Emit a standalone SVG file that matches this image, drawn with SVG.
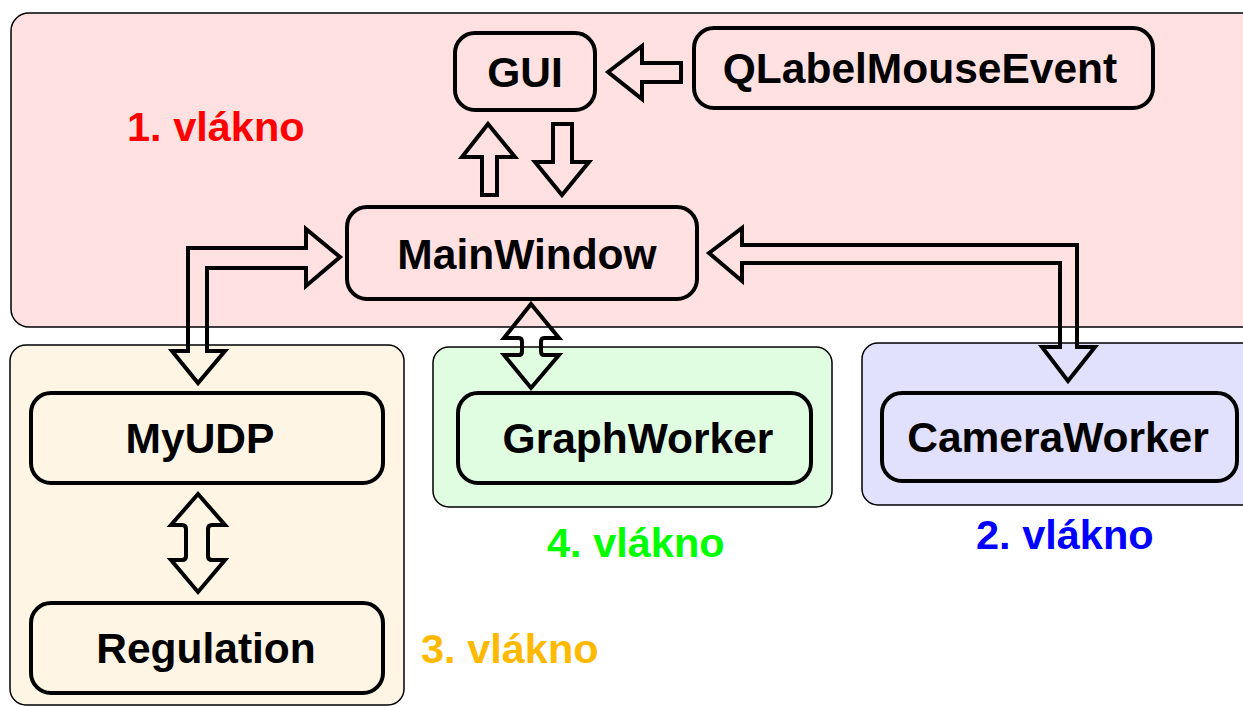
<svg xmlns="http://www.w3.org/2000/svg" width="1243" height="706" viewBox="0 0 1243 706">
<style>
.region{stroke:#000;stroke-width:1.5}
.node{fill:none;stroke:#000;stroke-width:4}
.lbl{font-family:"Liberation Sans",Arial,sans-serif;font-weight:bold;font-size:42.5px;text-anchor:middle;fill:#000}
.thread{font-family:"Liberation Sans",Arial,sans-serif;font-weight:bold;font-size:41.5px}
.arr{fill:none;stroke:#000;stroke-width:4;stroke-linejoin:miter}
</style>
<rect width="1243" height="706" fill="#fff"/>
<g id="thread1">
<rect class="region" x="11" y="13" width="1250" height="314" rx="18" fill="#ffe1e1"/>
<text class="thread" x="127" y="141" fill="#ff0000">1. vlákno</text>
</g>
<g id="thread3">
<rect class="region" x="10" y="345" width="394" height="360" rx="16" fill="#fef5e4"/>
<text class="thread" x="421" y="663" fill="#ffb900">3. vlákno</text>
</g>
<g id="thread4">
<rect class="region" x="433" y="347" width="399" height="160" rx="16" fill="#e1fde1"/>
<text class="thread" x="547" y="557" fill="#00ff00">4. vlákno</text>
</g>
<g id="thread2">
<rect class="region" x="862" y="343" width="400" height="162" rx="16" fill="#e1e1fd"/>
<text class="thread" x="976" y="549" fill="#0000ff">2. vlákno</text>
</g>
<g id="gui">
<rect class="node" x="455" y="33" width="140" height="77" rx="20"/>
<text class="lbl" x="525" y="87">GUI</text>
</g>
<g id="qlabel">
<rect class="node" x="694" y="28" width="459" height="80" rx="20"/>
<text class="lbl" x="920" y="83">QLabelMouseEvent</text>
</g>
<g id="mainwindow">
<rect class="node" x="347" y="207" width="350" height="92" rx="20"/>
<text class="lbl" x="527" y="269">MainWindow</text>
</g>
<g id="myudp">
<rect class="node" x="31" y="393" width="352" height="90" rx="20"/>
<text class="lbl" x="200" y="453">MyUDP</text>
</g>
<g id="regulation">
<rect class="node" x="31" y="603" width="352" height="90" rx="20"/>
<text class="lbl" x="206" y="663">Regulation</text>
</g>
<g id="graphworker">
<rect class="node" x="458" y="393" width="353" height="90" rx="20"/>
<text class="lbl" x="638" y="453">GraphWorker</text>
</g>
<g id="cameraworker">
<rect class="node" x="882" y="393" width="355" height="88" rx="20"/>
<text class="lbl" x="1058" y="452">CameraWorker</text>
</g>
<g id="connectors">
<path class="arr" d="M608,72 L642,46 L642,63 L681,63 L681,82 L642,82 L642,99 Z"/>
<path class="arr" d="M488,124 L515,157 L497,157 L497,195 L482,195 L482,157 L462,157 Z"/>
<path class="arr" d="M562,195 L589,162 L572,162 L572,124 L553,124 L553,162 L535,162 Z"/>
<path class="arr" d="M340,257 L306,229 L306,248 L188,248 L188,351 L172,351 L198,383 L225,351 L207,351 L207,268 L306,268 L306,286 Z"/>
<path class="arr" d="M709,253 L742,228 L742,245 L1077,245 L1077,347 L1095,347 L1068,381 L1042,347 L1060,347 L1060,263 L742,263 L742,281 Z"/>
<path class="arr" d="M531,304 L559,338 L544,338 Q541,338 541,342 L541,351 Q541,355 544,355 L559,355 L531,388 L504,355 L519,355 Q522,355 522,351 L522,342 Q522,338 519,338 L504,338 Z"/>
<path class="arr" d="M198,494 L225,525 L212,525 Q208,525 208,529 L208,556 Q208,560 212,560 L225,560 L198,592 L171,560 L182,560 Q186,560 186,556 L186,529 Q186,525 182,525 L171,525 Z"/>
</g>
</svg>
